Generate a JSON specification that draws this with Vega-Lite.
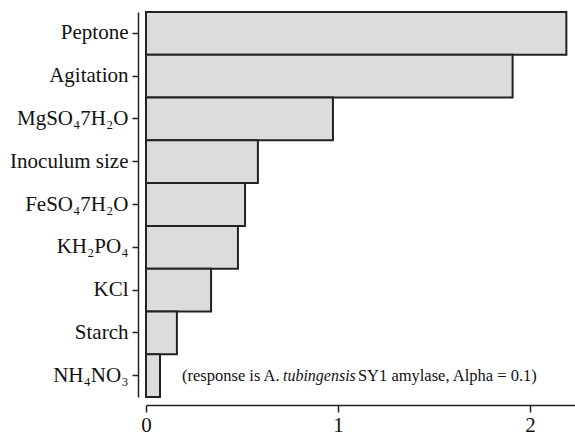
{
  "$schema": "https://vega.github.io/schema/vega-lite/v6.json",
  "autosize": "none",
  "width": 429,
  "height": 385,
  "padding": {"left": 146, "top": 12, "right": 0, "bottom": 41},
  "background": "white",
  "config": {
    "view": {"stroke": null},
    "font": "Liberation Serif",
    "axis": {"grid": false, "domainColor": "#222", "tickColor": "#222", "labelColor": "#111", "labelFont": "Liberation Serif", "labelFontSize": 21, "domainWidth": 1.5, "tickWidth": 1.5}
  },
  "datasets": {
    "bars": [
      {"term": "Peptone", "effect": 2.19},
      {"term": "Agitation", "effect": 1.91},
      {"term": "MgSO₄7H₂O", "effect": 0.974},
      {"term": "Inoculum size", "effect": 0.583},
      {"term": "FeSO₄7H₂O", "effect": 0.516},
      {"term": "KH₂PO₄", "effect": 0.479},
      {"term": "KCl", "effect": 0.339},
      {"term": "Starch", "effect": 0.161},
      {"term": "NH₄NO₃", "effect": 0.073}
    ],
    "note": [
      {"term": "NH₄NO₃", "x": 0.1875, "text": "(response is A.", "style": "normal"},
      {"term": "NH₄NO₃", "x": 0.7135, "text": "tubingensis", "style": "italic"},
      {"term": "NH₄NO₃", "x": 1.104, "text": "SY1 amylase, Alpha = 0.1)", "style": "normal"}
    ]
  },
  "layer": [
    {
      "data": {"name": "bars"},
      "mark": {"type": "bar", "fill": "#dcdcdc", "stroke": "#222", "strokeWidth": 2},
      "encoding": {
        "y": {"field": "term", "type": "nominal", "sort": null,
              "scale": {"paddingInner": 0, "paddingOuter": 0},
              "axis": {"title": null, "offset": 8, "tickSize": 6, "labelPadding": 4}},
        "x": {"field": "effect", "type": "quantitative",
              "scale": {"domain": [0, 2.235], "nice": false, "zero": true},
              "axis": {"title": null, "offset": 8, "values": [0, 1, 2], "format": "d", "tickSize": 7, "labelPadding": 2, "labelFlush": false}}
      }
    },
    {
      "data": {"name": "note"},
      "transform": [{"filter": "datum.style == 'normal'"}],
      "mark": {"type": "text", "align": "left", "baseline": "middle", "fontSize": 16.5, "font": "Liberation Serif", "color": "#111"},
      "encoding": {
        "y": {"field": "term", "type": "nominal", "sort": null},
        "x": {"field": "x", "type": "quantitative"},
        "text": {"field": "text"}
      }
    },
    {
      "data": {"name": "note"},
      "transform": [{"filter": "datum.style == 'italic'"}],
      "mark": {"type": "text", "align": "left", "baseline": "middle", "fontSize": 16, "font": "Liberation Serif", "fontStyle": "italic", "color": "#111"},
      "encoding": {
        "y": {"field": "term", "type": "nominal", "sort": null},
        "x": {"field": "x", "type": "quantitative"},
        "text": {"field": "text"}
      }
    }
  ]
}
